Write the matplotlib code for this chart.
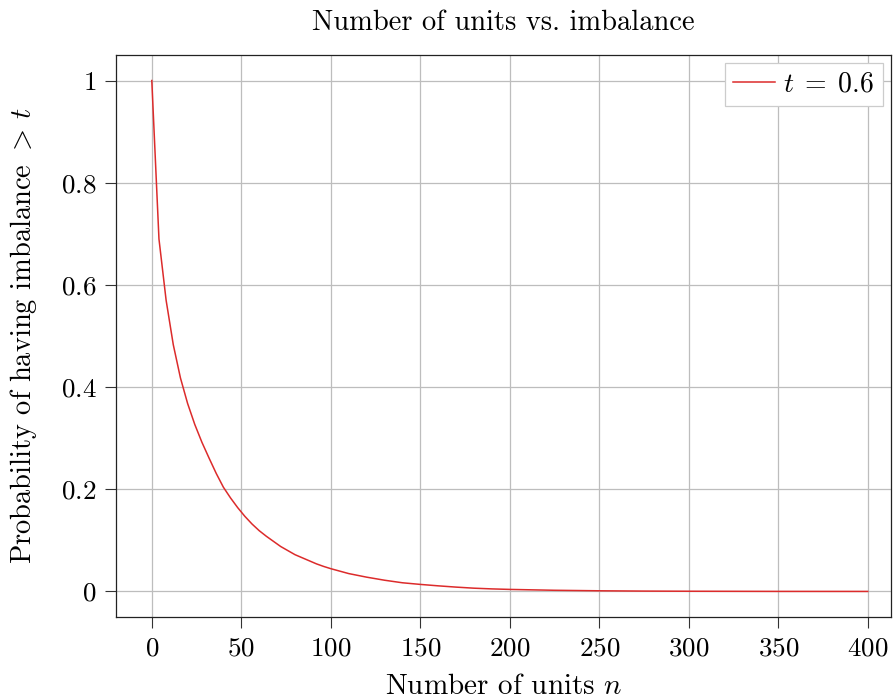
import matplotlib
matplotlib.use('Agg')
import matplotlib.pyplot as plt

# values
n_units = [0, 4, 8, 12, 16, 20, 24, 28, 32, 36, 40, 44, 48, 52, 56, 60, 64, 68,
           72, 76, 80, 84, 88, 92, 96, 100, 110, 120, 130, 140, 150, 160, 170,
           180, 190, 200, 225, 250, 275, 300, 350, 400]
prob_imbalance = [1.0, 0.69, 0.57, 0.483, 0.418, 0.368, 0.327, 0.292, 0.261, 0.231,
                  0.204, 0.183, 0.164, 0.147, 0.132, 0.119, 0.108, 0.098,
                  0.088, 0.080, 0.072, 0.066, 0.060, 0.054, 0.049, 0.0446, 0.035,
                  0.028, 0.022, 0.017, 0.0138, 0.011, 0.0085, 0.0064, 0.005,
                  0.004, 0.0023, 0.0013, 0.0007, 0.0004, 0.0001, 0.00003]

x_ticks = [0, 50, 100, 150, 200, 250, 300, 350, 400]
y_ticks = [0, 0.2, 0.4, 0.6, 0.8, 1]
y_tick_labels = ['$0$', '$0.2$', '$0.4$', '$0.6$', '$0.8$', '$1$']
x_tick_labels = ['$%d$' % v for v in x_ticks]

LINE_RED = '#dc2b2b'
GRID_GRAY = '#bdbdbd'

plt.rcParams['mathtext.fontset'] = 'cm'
plt.rcParams['font.family'] = 'cmr10'
plt.rcParams['axes.formatter.use_mathtext'] = True

fig = plt.figure(figsize=(8.95, 7.0), dpi=100)
ax = fig.add_axes([116 / 895, 1 - 617 / 700, 775 / 895, 562 / 700])

ax.plot(n_units, prob_imbalance, color=LINE_RED, lw=1.1, label=r'$t\;=\;0.6$')

ax.set_xlim(-20, 413)
ax.set_ylim(-0.05, 1.05)
ax.set_xticks(x_ticks)
ax.set_xticklabels(x_tick_labels)
ax.set_yticks(y_ticks)
ax.set_yticklabels(y_tick_labels)
ax.tick_params(axis='both', direction='out', length=8, width=0.8, labelsize=19.5,
               color='#333333', pad=6)
ax.tick_params(top=False, right=False)

ax.grid(True, color=GRID_GRAY, lw=0.9)
ax.set_axisbelow(True)
for s in ax.spines.values():
    s.set_linewidth(0.9)
    s.set_color('#222222')

ax.set_title('Number of units vs. imbalance', fontsize=20.5, pad=18)
ax.set_xlabel('Number of units $n$', fontsize=21, labelpad=10)
ax.set_ylabel(r'Probability of having imbalance $>\,t$', fontsize=20.5, labelpad=16)

leg = ax.legend(loc='upper right', fontsize=20, fancybox=False, framealpha=1,
                edgecolor='#cccccc', handlelength=1.5, handletextpad=0.3,
                borderpad=0.3, borderaxespad=0.3)
leg.get_frame().set_linewidth(0.9)

fig.savefig('out.png', dpi=100)
